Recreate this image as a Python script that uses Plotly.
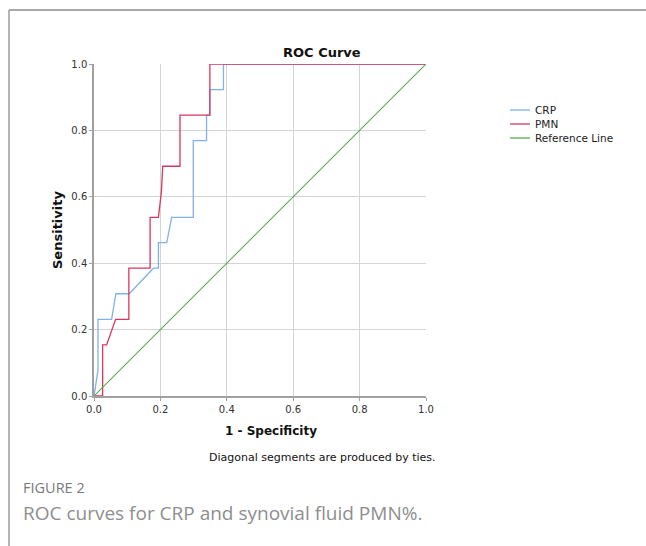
import plotly.graph_objects as go

# CRP ROC curve (1 - specificity, sensitivity)
crp_fpr = [0.0, 0.012, 0.012, 0.053, 0.066, 0.106, 0.179, 0.194, 0.194, 0.219, 0.234, 0.299, 0.299, 0.339, 0.339, 0.349, 0.349, 0.390, 0.390, 1.0]
crp_tpr = [0.0, 0.077, 0.231, 0.231, 0.308, 0.308, 0.385, 0.385, 0.462, 0.462, 0.538, 0.538, 0.769, 0.769, 0.846, 0.846, 0.923, 0.923, 1.0, 1.0]

# PMN ROC curve
pmn_fpr = [0.0, 0.026, 0.026, 0.038, 0.065, 0.105, 0.105, 0.169, 0.169, 0.194, 0.203, 0.207, 0.207, 0.259, 0.259, 0.349, 0.349, 1.0]
pmn_tpr = [0.0, 0.0, 0.154, 0.154, 0.231, 0.231, 0.385, 0.385, 0.538, 0.538, 0.615, 0.692, 0.692, 0.692, 0.846, 0.846, 1.0, 1.0]

ref_x = [0.0, 1.0]
ref_y = [0.0, 1.0]

tick_vals = [0.0, 0.2, 0.4, 0.6, 0.8, 1.0]
tick_text = ["0.0", "0.2", "0.4", "0.6", "0.8", "1.0"]

series_names = ["CRP", "PMN", "Reference Line"]
series_colors = ["#7fb2ea", "#d9365e", "#5aab4f"]

FONT = "DejaVu Sans"

fig = go.Figure()
fig.add_trace(go.Scatter(x=crp_fpr, y=crp_tpr, mode="lines", name=series_names[0],
                         line=dict(color=series_colors[0], width=1.3)))
fig.add_trace(go.Scatter(x=pmn_fpr, y=pmn_tpr, mode="lines", name=series_names[1],
                         line=dict(color=series_colors[1], width=1.3)))
fig.add_trace(go.Scatter(x=ref_x, y=ref_y, mode="lines", name=series_names[2],
                         line=dict(color=series_colors[2], width=1.1)))

L, R, T, B = 94, 426, 64, 396
W, H = 646, 546
pw, ph = R - L, B - T

def px(x):
    return (x - L) / pw

def py(y):
    return (B - y) / ph

fig.update_layout(
    width=W, height=H,
    margin=dict(l=L, r=W - R, t=T, b=H - B),
    paper_bgcolor="white", plot_bgcolor="white",
    showlegend=False,
    font=dict(family=FONT, color="#222"),
)
fig.update_xaxes(range=[0, 1], tickvals=tick_vals, ticktext=tick_text,
                 showgrid=True, gridcolor="#d4d4d4", gridwidth=1,
                 showline=True, linecolor="#a0a0a0", linewidth=1.5,
                 ticks="outside", ticklen=3, tickcolor="#a0a0a0",
                 tickfont=dict(family=FONT, size=10, color="#333"),
                 zeroline=False, fixedrange=True)
fig.update_yaxes(range=[0, 1], tickvals=tick_vals, ticktext=tick_text,
                 showgrid=True, gridcolor="#d4d4d4", gridwidth=1,
                 showline=True, linecolor="#a0a0a0", linewidth=1.5,
                 ticks="outside", ticklen=3, tickcolor="#a0a0a0",
                 tickfont=dict(family=FONT, size=10, color="#333"),
                 zeroline=False, fixedrange=True)

ann = [
    dict(text="<b>ROC Curve</b>", x=px(322), y=py(52), font=dict(size=13, family=FONT, color="#111")),
    dict(text="<b>Sensitivity</b>", x=px(57), y=py(230), textangle=-90, font=dict(size=13, family=FONT, color="#111")),
    dict(text="<b>1 - Specificity</b>", x=px(271), y=py(431), font=dict(size=12, family=FONT, color="#111")),
    dict(text="Diagonal segments are produced by ties.", x=px(322), y=py(457), font=dict(size=11, family=FONT, color="#111")),
    dict(text="FIGURE 2", x=px(21), y=py(487), xanchor="left", font=dict(size=14.5, family="Open Sans", color="#7a7a7a")),
    dict(text="ROC curves for CRP and synovial fluid PMN%.", x=px(21), y=py(513), xanchor="left", font=dict(size=19, family="Open Sans", color="#8e8e8e")),
]

# manual legend
leg_y = [110, 124, 138]
for name, col, yy in zip(series_names, series_colors, leg_y):
    fig.add_shape(type="line", xref="paper", yref="paper", x0=px(510), x1=px(530), y0=py(yy), y1=py(yy),
                  line=dict(color=col, width=1.3))
    ann.append(dict(text=name, x=px(533), y=py(yy), xanchor="left", font=dict(size=10.5, family=FONT, color="#222")))

for a in ann:
    a.setdefault("xanchor", "center")
    fig.add_annotation(xref="paper", yref="paper", yanchor="middle", showarrow=False, **a)

fig.add_shape(type="line", xref="paper", yref="paper", x0=px(9), x1=px(646), y0=py(10), y1=py(10),
              line=dict(color="#8c8c8c", width=1.3))
fig.add_shape(type="line", xref="paper", yref="paper", x0=px(9), x1=px(9), y0=py(10), y1=py(546),
              line=dict(color="#8c8c8c", width=1.3))

fig.write_html("out.html")
